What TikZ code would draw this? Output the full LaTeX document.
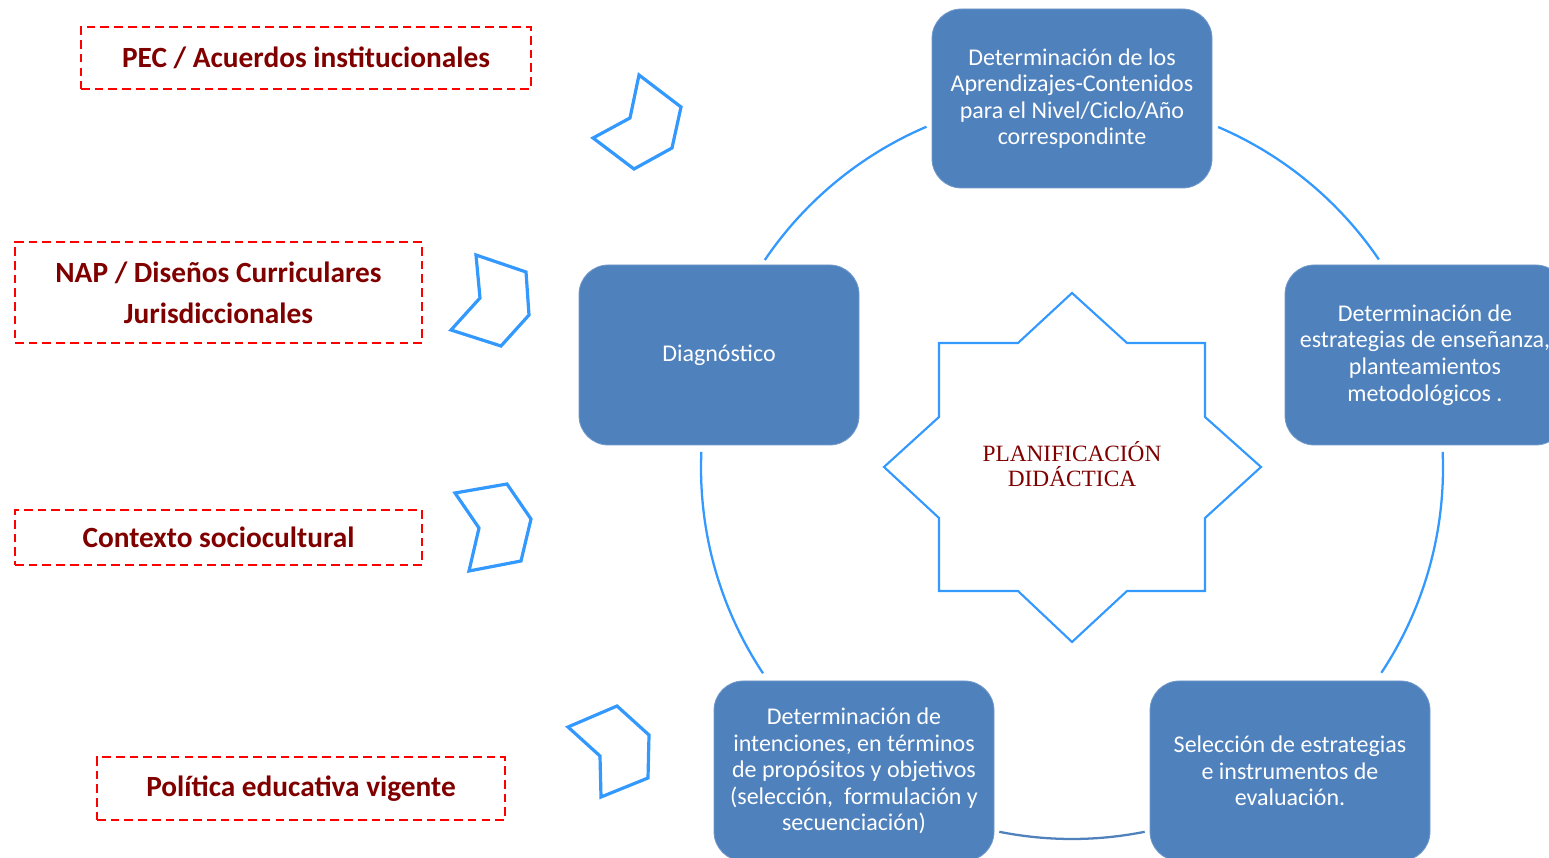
\documentclass[tikz,border=0pt]{standalone}
\usepackage{fontspec}
\setmainfont{Carlito}
\newfontfamily\starfont{Liberation Serif}
\definecolor{boxblue}{RGB}{79,129,189}
\definecolor{lineblue}{RGB}{51,153,255}
\definecolor{darkred}{RGB}{128,0,0}
\definecolor{dashred}{RGB}{255,0,0}
\tikzset{
  stepbox/.style={rectangle, rounded corners=22pt, fill=boxblue, draw=boxblue!80!white, line width=0.6pt,
    minimum width=210pt, minimum height=135pt, inner sep=0pt, align=center, text=white,
    font=\fontsize{18}{19.9}\selectfont},
  srcbox/.style={rectangle, draw=dashred, line width=1.5pt, dash pattern=on 6.5pt off 3.8pt,
    inner sep=0pt, align=center, text=darkred, font=\fontsize{22}{30.75}\selectfont\bfseries},
  chev/.style={draw=lineblue, line width=2.4pt, line join=miter},
  cyc/.style={draw=lineblue, line width=1.7pt},
  cycdark/.style={draw=boxblue, line width=1.7pt},
  x=0.75pt, y=0.75pt
}
\begin{document}
\begin{tikzpicture}
\useasboundingbox (0,0) rectangle (1549,857);
\fill[white] (0,0) rectangle (1549,857);
\clip (0,0) rectangle (1549,857);

% source boxes
\node[srcbox, minimum width=337.5pt, minimum height=46.5pt] (pec) at (306,799) {PEC / Acuerdos institucionales};
\node[srcbox, minimum width=305.25pt, minimum height=75.75pt] (nap) at (218.5,564.5) {NAP / Diseños Curriculares\\Jurisdiccionales};
\node[srcbox, minimum width=305.25pt, minimum height=41.25pt] (ctx) at (218.5,319.5) {Contexto sociocultural};
\node[srcbox, minimum width=306pt, minimum height=47.25pt] (pol) at (301,68.5) {Política educativa vigente};

% chevrons
\draw[chev] (639,782) -- (681,750) -- (672,709) -- (634,688) -- (593,719) -- (630,739) -- cycle;
\draw[chev] (476,602) -- (526,585) -- (529,542) -- (501,511) -- (451,527) -- (480,559) -- cycle;
\draw[chev] (455,364) -- (507,373) -- (531,338) -- (521,296) -- (469,286) -- (479,329) -- cycle;
\draw[chev] (568,130) -- (617,151) -- (649,122) -- (648,79) -- (601,60) -- (600,101) -- cycle;

% cycle boxes
\node[stepbox, minimum height=134.25pt] (apr) at (1072,758.5) {Determinación de los\\Aprendizajes-Contenidos\\para el Nivel/Ciclo/Año\\correspondinte};
\node[stepbox] (diag) at (719,502) {Diagnóstico};
\node[stepbox] (estr) at (1425,502) {Determinación de\\estrategias de enseñanza,\\planteamientos\\metodológicos .};
\node[stepbox] (eval) at (1290,86) {Selección de estrategias\\e instrumentos de\\evaluación.};
\node[stepbox] (inte) at (854,86) {Determinación de\\intenciones, en términos\\de propósitos y objetivos\\(selección,\ \ formulación y\\secuenciación)};

% cycle arcs
\coordinate (ctr) at (1072,389);
\draw[cyc] (ctr) ++(145.9:371) arc[start angle=145.9, end angle=113.1, radius=371];
\draw[cyc] (ctr) ++(66.8:371) arc[start angle=66.8, end angle=34.2, radius=371];
\draw[cyc] (ctr) ++(2.5:371) arc[start angle=2.5, end angle=-33.5, radius=371];
\draw[cycdark] (ctr) ++(-78.7:371) arc[start angle=-78.7, end angle=-101.3, radius=371];
\draw[cyc] (ctr) ++(213.6:371) arc[start angle=213.6, end angle=177.5, radius=371];

% star
\draw[draw=lineblue, line width=1.6pt] (1072,564) -- (1127,514) -- (1205,514) -- (1205,440) -- (1261,390) -- (1205,339) -- (1205,266) -- (1127,266) -- (1072,215) -- (1018,266) -- (939,266) -- (939,339) -- (884,390) -- (939,440) -- (939,514) -- (1018,514) -- cycle;
\node[align=center, text=darkred, font=\starfont\fontsize{17.5}{18.75}\selectfont, inner sep=0pt] (plan) at (1072,392.5) {PLANIFICACIÓN\\DIDÁCTICA};
\end{tikzpicture}
\end{document}
